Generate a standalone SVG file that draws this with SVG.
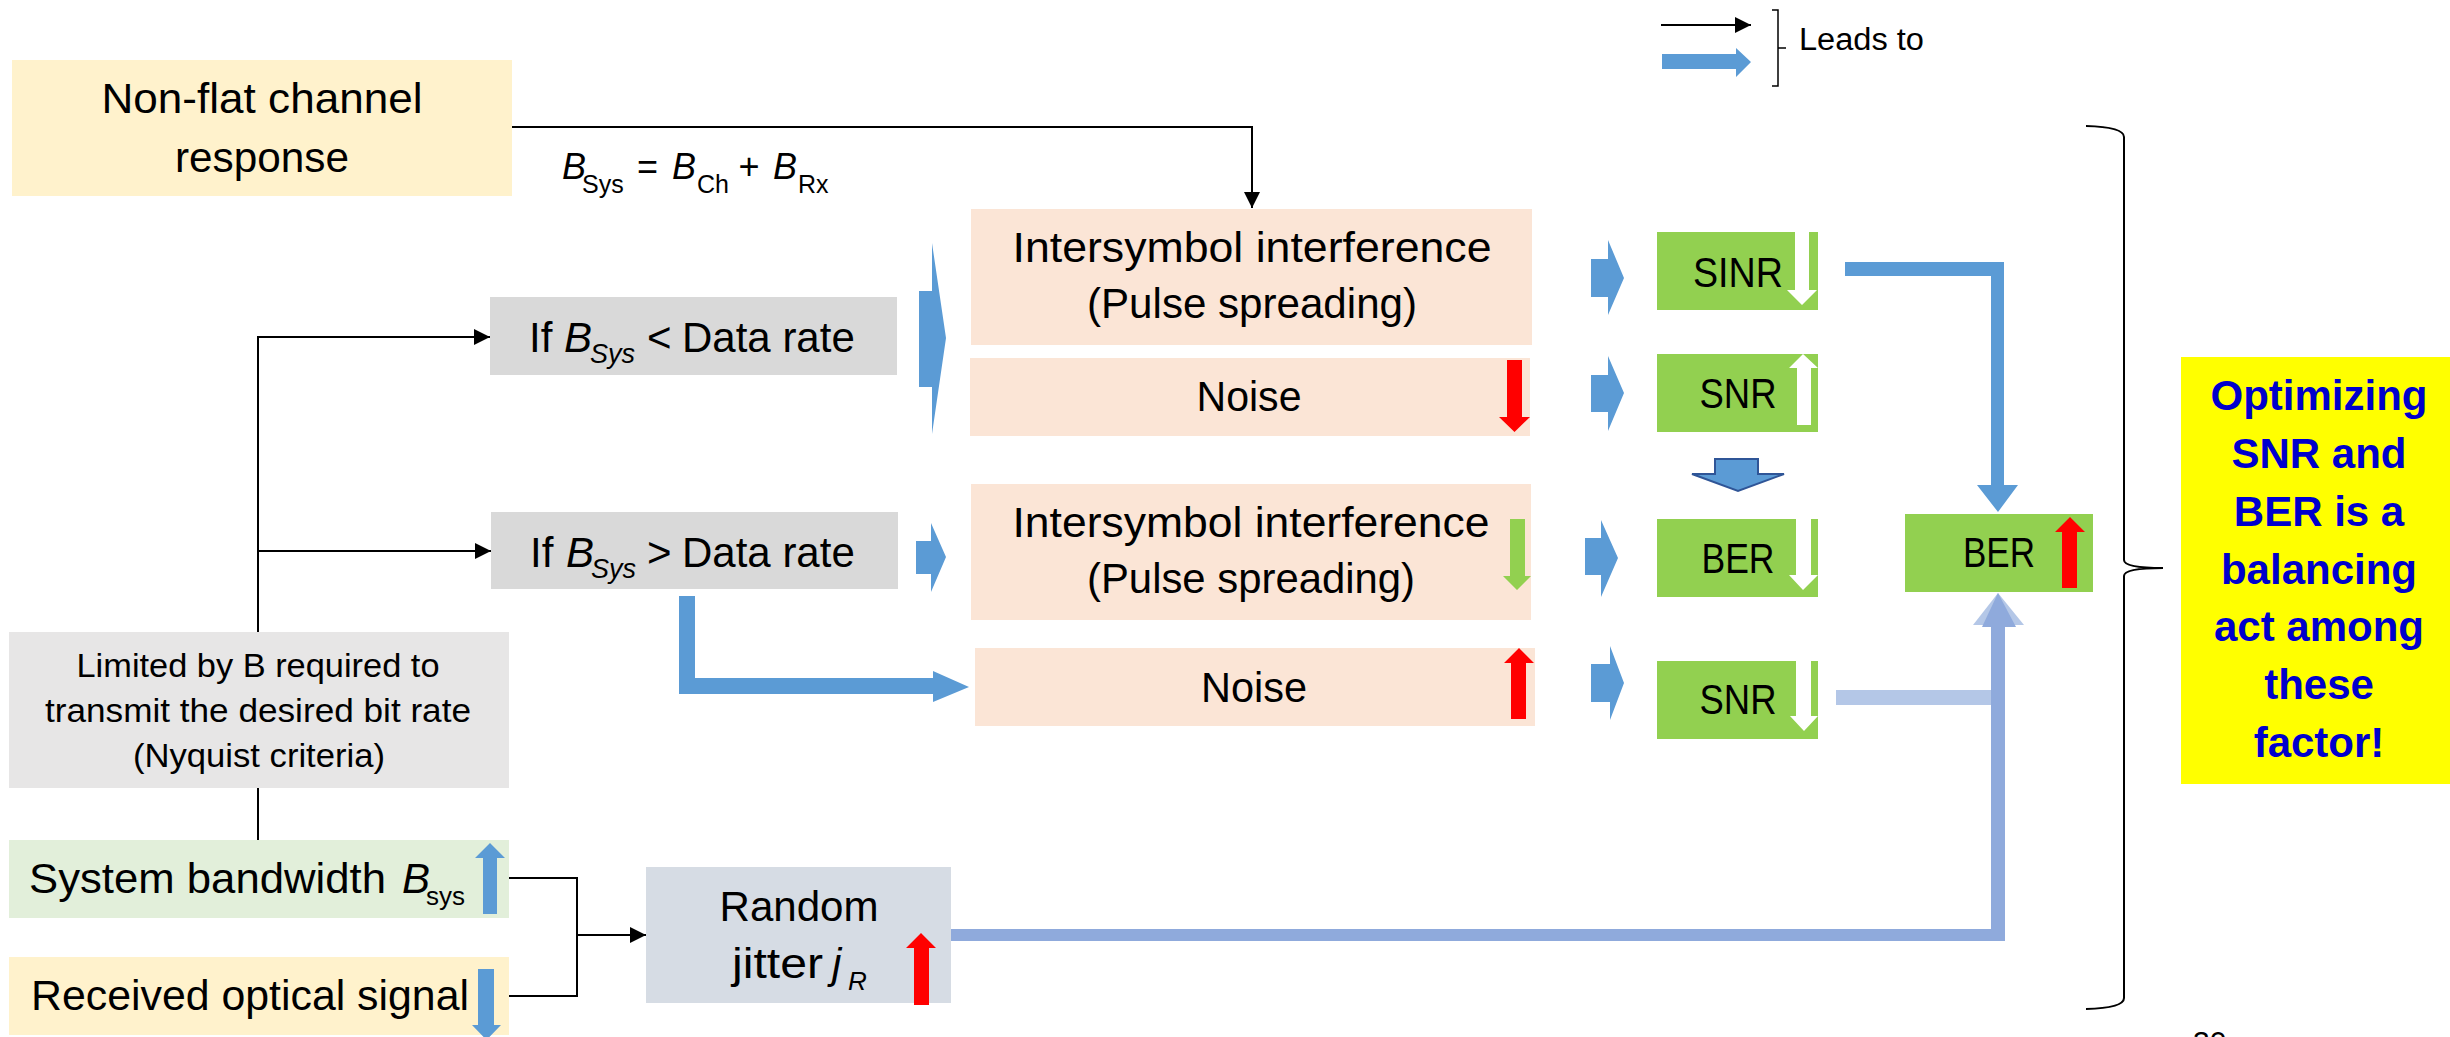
<svg xmlns="http://www.w3.org/2000/svg" width="2450" height="1037" viewBox="0 0 2450 1037">
<defs>
<style>
text { font-family: "Liberation Sans", Arial, sans-serif; fill: #000; }
.m { font-size: 42px; }
.mid { text-anchor: middle; }
.it { font-style: italic; }
.sub { font-size: 26px; }
.lim { font-size: 34px; text-anchor: middle; }
.wire { fill: none; stroke: #000; stroke-width: 2; }
.flow { fill: #5b9bd5; }
.red { fill: #ff0000; }
.wht { fill: #ffffff; }
.grn { fill: #92d050; }
.peach { fill: #fbe5d6; }
.cond { fill: #d9d9d9; }
.note { fill: #0000cc; font-weight: bold; font-size: 42px; text-anchor: middle; }
</style>
<marker id="head" markerUnits="userSpaceOnUse" markerWidth="16" markerHeight="16" refX="16" refY="8" orient="auto">
<path d="M0,0 L16,8 L0,16 Z" fill="#000"/>
</marker>
</defs>

<rect x="0" y="0" width="2450" height="1037" fill="#ffffff"/>

<!-- legend -->
<g id="legend">
<line x1="1661" y1="25" x2="1751" y2="25" stroke="#000" stroke-width="2" marker-end="url(#head)"/>
<polygon class="flow" points="1662,54 1736,54 1736,48 1751,62 1736,77 1736,69 1662,69"/>
<path d="M1772,10 H1778 V86 H1772 M1778,48 H1786" fill="none" stroke="#000" stroke-width="1.5"/>
<text x="1799" y="50" font-size="31" textLength="125" lengthAdjust="spacingAndGlyphs">Leads to</text>
</g>

<!-- connectors -->
<g id="connectors">
<path class="wire" d="M512,127 H1252 V208" marker-end="url(#head)"/>
<path class="wire" d="M258,632 V337 H490" marker-end="url(#head)"/>
<path class="wire" d="M258,551 H491" marker-end="url(#head)"/>
<path class="wire" d="M258,788 V840"/>
<path class="wire" d="M509,878 H577 V996 H509"/>
<path class="wire" d="M577,935 H646" marker-end="url(#head)"/>
<!-- branch arrows out of the two conditions -->
<polygon class="flow" points="919,291 932,291 932,243 946,338 932,434 932,387 919,387"/>
<polygon class="flow" points="916,541 931,541 931,523 946,557 931,592 931,574 916,574"/>
<polygon class="flow" points="679,596 695,596 695,678 933,678 933,671 969,687 933,702 933,694 679,694"/>
<!-- effects to metrics -->
<polygon class="flow" points="1591,259 1608,259 1608,240 1624,278 1608,315 1608,297 1591,297"/>
<polygon class="flow" points="1591,375 1608,375 1608,356 1624,393 1608,431 1608,412 1591,412"/>
<polygon class="flow" points="1585,538 1601,538 1601,520 1618,558 1601,597 1601,575 1585,575"/>
<polygon class="flow" points="1591,664 1610,664 1610,646 1624,683 1610,720 1610,702 1591,702"/>
<polygon points="1715,459 1758,459 1758,474 1784,474 1738,491 1692,474 1715,474" fill="#5b9bd5" stroke="#2f5597" stroke-width="2"/>
<!-- routes into the overall BER -->
<polygon class="flow" points="1845,262 2004,262 2004,485 2018,485 1998,512 1977,485 1991,485 1991,276 1845,276"/>
<rect x="1836" y="690" width="162" height="15" fill="#b4c7e7"/>
<polygon points="1973,625 1998,593 2024,625" fill="#b4c7e7"/>
<path d="M951,929 H1991 V627 H2005 V941 H951 Z" fill="#8faadc"/>
<polygon points="1982,627 1998,593 2016,627" fill="#8faadc"/>
<!-- grouping brace -->
<path d="M2086,126 Q2124,127 2124,137 V560 Q2124,568 2163,568 Q2124,568 2124,576 V998 Q2124,1008 2086,1009" fill="none" stroke="#000" stroke-width="2"/>
</g>

<g id="nonflat">
<rect x="12" y="60" width="500" height="136" fill="#fff2cc"/>
<text class="m mid" x="262" y="113" textLength="321" lengthAdjust="spacingAndGlyphs">Non-flat channel</text>
<text class="m mid" x="262" y="172" textLength="174" lengthAdjust="spacingAndGlyphs">response</text>
</g>

<g id="formula">
<text font-size="36"><tspan class="it" x="562" y="179">B</tspan><tspan x="582" y="193" font-size="25">Sys</tspan><tspan x="637" y="179">=</tspan><tspan class="it" x="672" y="179">B</tspan><tspan x="697" y="193" font-size="25">Ch</tspan><tspan class="it" x="738" y="179">+</tspan><tspan class="it" x="773" y="179">B</tspan><tspan x="798" y="193" font-size="25">Rx</tspan></text>
</g>

<g id="cond-low">
<rect class="cond" x="490" y="297" width="407" height="78"/>
<text class="m"><tspan x="529" y="352">If</tspan><tspan class="it" x="564" y="352">B</tspan><tspan class="it" x="590" y="363" font-size="27">Sys</tspan><tspan x="647" y="352">&lt;</tspan><tspan x="682" y="352">Data rate</tspan></text>
</g>

<g id="cond-high">
<rect class="cond" x="491" y="512" width="407" height="77"/>
<text class="m"><tspan x="530" y="567">If</tspan><tspan class="it" x="566" y="567">B</tspan><tspan class="it" x="591" y="578" font-size="27">Sys</tspan><tspan x="647" y="567">&gt;</tspan><tspan x="682" y="567">Data rate</tspan></text>
</g>

<g id="isi-low">
<rect class="peach" x="971" y="209" width="561" height="136"/>
<text class="m mid" x="1252" y="262" textLength="479" lengthAdjust="spacingAndGlyphs">Intersymbol interference</text>
<text class="m mid" x="1252" y="318" textLength="330" lengthAdjust="spacingAndGlyphs">(Pulse spreading)</text>
</g>

<g id="noise-low">
<rect class="peach" x="970" y="358" width="560" height="78"/>
<text class="m mid" x="1249" y="411" textLength="105" lengthAdjust="spacingAndGlyphs">Noise</text>
<polygon class="red" points="1507,360 1522,360 1522,417 1530,417 1514.5,432 1499,417 1507,417"/>
</g>

<g id="isi-high">
<rect class="peach" x="971" y="484" width="560" height="136"/>
<text class="m mid" x="1251" y="537" textLength="477" lengthAdjust="spacingAndGlyphs">Intersymbol interference</text>
<text class="m mid" x="1251" y="593" textLength="328" lengthAdjust="spacingAndGlyphs">(Pulse spreading)</text>
<polygon class="grn" points="1510,519 1525,519 1525,576 1531,576 1517,590 1503,576 1510,576"/>
</g>

<g id="noise-high">
<rect class="peach" x="975" y="648" width="560" height="78"/>
<text class="m mid" x="1254" y="702" textLength="106" lengthAdjust="spacingAndGlyphs">Noise</text>
<polygon class="red" points="1511,719 1526,719 1526,663 1534,663 1519,648 1504,663 1511,663"/>
</g>

<g id="sinr">
<rect class="grn" x="1657" y="232" width="161" height="78"/>
<text class="m mid" x="1738" y="287" textLength="90" lengthAdjust="spacingAndGlyphs">SINR</text>
<polygon class="wht" points="1795,232 1809,232 1809,290 1817,290 1802,305 1787,290 1795,290"/>
</g>

<g id="snr-low">
<rect class="grn" x="1657" y="354" width="161" height="78"/>
<text class="m mid" x="1738" y="408" textLength="77" lengthAdjust="spacingAndGlyphs">SNR</text>
<polygon class="wht" points="1797,425 1811,425 1811,368 1818,368 1803,354 1789,368 1797,368"/>
</g>

<g id="ber-low">
<rect class="grn" x="1657" y="519" width="161" height="78"/>
<text class="m mid" x="1738" y="573" textLength="73" lengthAdjust="spacingAndGlyphs">BER</text>
<polygon class="wht" points="1796,519 1811,519 1811,575 1818,575 1803,590 1789,575 1796,575"/>
</g>

<g id="snr-high">
<rect class="grn" x="1657" y="661" width="161" height="78"/>
<text class="m mid" x="1738" y="714" textLength="77" lengthAdjust="spacingAndGlyphs">SNR</text>
<polygon class="wht" points="1796,661 1811,661 1811,716 1818,716 1804,731 1790,716 1796,716"/>
</g>

<g id="ber-total">
<rect class="grn" x="1905" y="514" width="188" height="78"/>
<text class="m mid" x="1999" y="567" textLength="72" lengthAdjust="spacingAndGlyphs">BER</text>
<polygon class="red" points="2062,588 2077,588 2077,532 2085,532 2070,517 2055,532 2062,532"/>
</g>

<g id="summary">
<rect x="2181" y="357" width="269" height="427" fill="#ffff00"/>
<text class="note" x="2319" y="410">Optimizing</text>
<text class="note" x="2319" y="468">SNR and</text>
<text class="note" x="2319" y="526">BER is a</text>
<text class="note" x="2319" y="584">balancing</text>
<text class="note" x="2319" y="641">act among</text>
<text class="note" x="2319" y="699">these</text>
<text class="note" x="2319" y="757">factor!</text>
</g>

<g id="nyquist">
<rect x="9" y="632" width="500" height="156" fill="#e7e6e6"/>
<text class="lim" x="258" y="677" textLength="363" lengthAdjust="spacingAndGlyphs">Limited by B required to</text>
<text class="lim" x="258" y="722" textLength="426" lengthAdjust="spacingAndGlyphs">transmit the desired bit rate</text>
<text class="lim" x="259" y="767" textLength="252" lengthAdjust="spacingAndGlyphs">(Nyquist criteria)</text>
</g>

<g id="bandwidth">
<rect x="9" y="840" width="500" height="78" fill="#e2efda"/>
<text class="m"><tspan x="29" y="893" textLength="357" lengthAdjust="spacingAndGlyphs">System bandwidth</tspan><tspan class="it" x="402" y="893">B</tspan><tspan class="sub" x="426" y="905">sys</tspan></text>
<polygon class="flow" points="483,914 497,914 497,858 505,858 490,843 475,858 483,858"/>
</g>

<g id="received">
<rect x="9" y="957" width="500" height="78" fill="#fff2cc"/>
<text class="m" x="31" y="1010" textLength="438" lengthAdjust="spacingAndGlyphs">Received optical signal</text>
<polygon class="flow" points="478,969 494,969 494,1025 501,1025 486.5,1040 472,1025 478,1025"/>
</g>

<g id="jitter">
<rect x="646" y="867" width="305" height="136" fill="#d6dce4"/>
<text class="m mid" x="799" y="921" textLength="159" lengthAdjust="spacingAndGlyphs">Random</text>
<text class="m"><tspan x="732" y="978" textLength="91" lengthAdjust="spacingAndGlyphs">jitter</tspan><tspan class="it" x="832" y="978">j</tspan><tspan class="it sub" x="848" y="990">R</tspan></text>
<polygon class="red" points="914,1005 929,1005 929,948 936,948 921,933 906,948 914,948"/>
</g>

<text x="2193" y="1052" font-size="30" fill="#8a8a8a">30</text>
</svg>
